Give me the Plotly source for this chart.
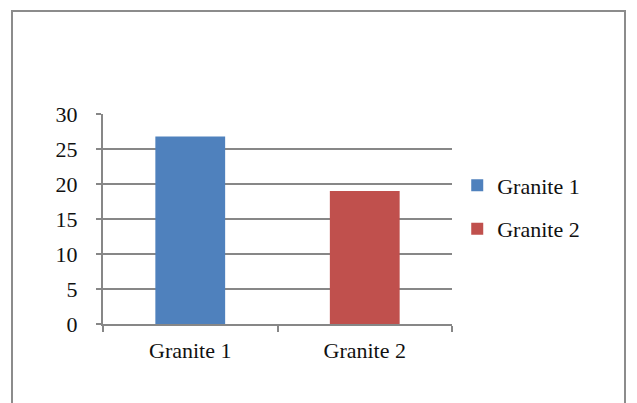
import plotly.graph_objects as go

# Data
categories = ["Granite 1", "Granite 2"]
series_names = ["Granite 1", "Granite 2"]
values = [26.8, 19.0]
colors = ["#4F81BD", "#C0504D"]
y_ticks = [0, 5, 10, 15, 20, 25, 30]

W, H = 637, 403
L, R, T, B = 103, 185, 114, 79

fig = go.Figure()
for name, cat, val, col in zip(series_names, categories, values, colors):
    fig.add_trace(go.Bar(
        x=[cat], y=[val], name=name,
        marker=dict(color=col, line=dict(color=col, width=0)),
        legendgroup=name,
    ))

font = dict(family="Liberation Serif, Times New Roman, serif", size=22, color="#111111")
axis_gray = "#878787"

fig.update_layout(
    width=W, height=H,
    margin=dict(l=L, r=R, t=T, b=B),
    paper_bgcolor="white", plot_bgcolor="white",
    barmode="overlay", bargap=0.6,
    font=font,
    showlegend=True,
    legend=dict(x=1.015, y=0.555, xanchor="left", yanchor="middle",
                font=font, tracegroupgap=12, itemwidth=30,
                bgcolor="rgba(0,0,0,0)"),
    xaxis=dict(type="category", categoryorder="array", categoryarray=categories,
               showline=True, linecolor=axis_gray, linewidth=2,
               ticks="outside", tickson="boundaries", ticklen=6, tickcolor=axis_gray,
               tickwidth=2, showgrid=False, ticklabelstandoff=6),
    yaxis=dict(range=[0, 30], tickvals=y_ticks, showline=True, linecolor=axis_gray,
               linewidth=2, ticks="outside", ticklen=5, tickcolor=axis_gray, tickwidth=2,
               showgrid=True, gridcolor=axis_gray, gridwidth=2, zeroline=False,
               ticklabelstandoff=14),
)

# Chart frame
px2x = lambda px: (px - L) / (W - L - R)
py2y = lambda py: (H - B - py) / (H - T - B)
fig.add_shape(type="rect", xref="paper", yref="paper",
              x0=px2x(12), x1=px2x(625), y0=py2y(420), y1=py2y(11),
              line=dict(color="#8C8C8C", width=2), fillcolor="rgba(0,0,0,0)", layer="below")

fig.write_html("out.html")
